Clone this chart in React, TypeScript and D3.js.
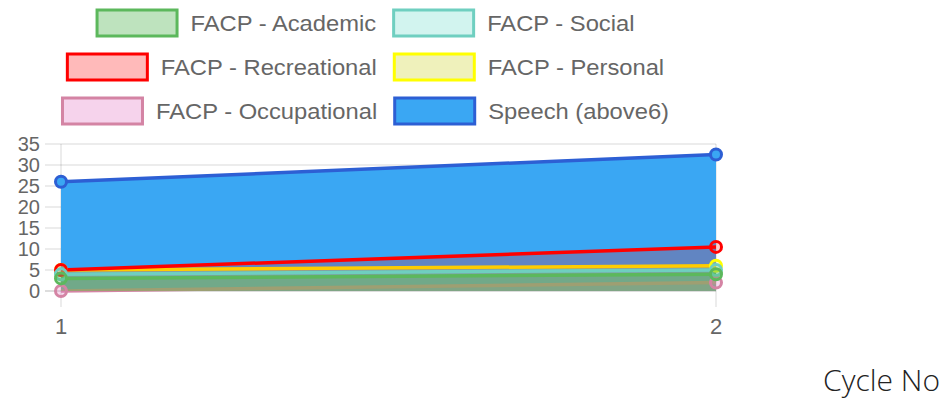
import React, { useEffect, useRef } from 'react';
import * as d3 from 'd3';

const cycles = [1, 2];
const yTicks = [0, 5, 10, 15, 20, 25, 30, 35];

const academic = [3, 4];
const social = [4, 5];
const recreational = [5, 10.5];
const personal = [5, 6];
const occupational = [0, 2];
const speech = [26, 32.5];

const seriesNames = [
  'FACP - Academic',
  'FACP - Social',
  'FACP - Recreational',
  'FACP - Personal',
  'FACP - Occupational',
  'Speech (above6)',
];
const seriesValues = [academic, social, recreational, personal, occupational, speech];
const borders = ['#5cb85c', '#6fcfc0', '#ff0000', '#ffff00', '#d484a4', '#2d5fd4'];
const fills = [
  'rgba(92,184,92,0.4)',
  'rgba(75,210,190,0.25)',
  'rgba(255,0,0,0.27)',
  'rgba(210,215,60,0.35)',
  'rgba(230,130,200,0.35)',
  'rgba(58,167,243,1)',
];
// fills drawn inside the plot are a little lighter than the legend swatches
const areaFills = [
  'rgba(92,184,92,0.35)',
  'rgba(75,210,190,0.2)',
  'rgba(255,0,0,0.2)',
  'rgba(230,235,80,0.3)',
  'rgba(230,130,200,0.3)',
  'rgba(58,167,243,1)',
];

const App: React.FC = () => {
  const svgRef = useRef<SVGSVGElement | null>(null);

  useEffect(() => {
    const svg = d3.select(svgRef.current);
    svg.selectAll('*').remove();

    const x = d3.scaleLinear().domain([1, 2]).range([61, 716]);
    const y = d3.scaleLinear().domain([0, 35]).range([291, 144]);
    const font = '"Liberation Sans", Arial, sans-serif';

    // grid
    const grid = svg.append('g');
    grid.selectAll('line.h')
      .data(yTicks)
      .enter().append('line')
      .attr('x1', 45).attr('x2', 716)
      .attr('y1', d => y(d)).attr('y2', d => y(d))
      .attr('stroke', d => (d === 0 ? 'rgba(0,0,0,0.18)' : 'rgba(0,0,0,0.1)'))
      .attr('stroke-width', 1.5);
    grid.selectAll('line.v')
      .data(cycles)
      .enter().append('line')
      .attr('x1', d => x(d)).attr('x2', d => x(d))
      .attr('y1', 144).attr('y2', 307)
      .attr('stroke', 'rgba(0,0,0,0.1)')
      .attr('stroke-width', 1.5);

    svg.append('g').selectAll('text')
      .data(yTicks)
      .enter().append('text')
      .attr('x', 40).attr('y', d => y(d))
      .attr('dy', '0.36em')
      .attr('text-anchor', 'end')
      .attr('font-family', font).attr('font-size', 20)
      .attr('transform-origin', '40px 0')
      .attr('fill', '#666')
      .text(d => d);

    svg.append('g').selectAll('text')
      .data(cycles)
      .enter().append('text')
      .attr('x', d => x(d)).attr('y', 326)
      .attr('dy', '0.36em')
      .attr('text-anchor', 'middle')
      .attr('font-family', font).attr('font-size', 22)
      .attr('fill', '#666')
      .text(d => d);

    const area = d3.area<number>()
      .x((_, i) => x(cycles[i]))
      .y0(y(0))
      .y1(d => y(d));
    const line = d3.line<number>()
      .x((_, i) => x(cycles[i]))
      .y(d => y(d));

    // chart.js draws the first dataset on top
    const order = d3.range(seriesValues.length).reverse();
    const plot = svg.append('g');
    order.forEach(k => {
      plot.append('path')
        .attr('d', area(seriesValues[k]) as string)
        .attr('fill', areaFills[k]);
      plot.append('path')
        .attr('d', line(seriesValues[k]) as string)
        .attr('fill', 'none')
        .attr('stroke', borders[k])
        .attr('stroke-width', 3.5);
    });
    order.forEach(k => {
      plot.selectAll(null)
        .data(seriesValues[k])
        .enter().append('circle')
        .attr('cx', (_, i) => x(cycles[i]))
        .attr('cy', d => y(d))
        .attr('r', 5.5)
        .attr('fill', areaFills[k])
        .attr('stroke', borders[k])
        .attr('stroke-width', 3);
    });

    // legend, 2 items per row, centred
    const legend = svg.append('g');
    const boxW = 83;
    const boxH = 26;
    const rows = [[0, 1], [2, 3], [4, 5]];
    rows.forEach((row, r) => {
      const cy = 23 + r * 44;
      const g = legend.append('g');
      let cx = 0;
      row.forEach(k => {
        g.append('rect')
          .attr('x', cx + 1.5).attr('y', cy - boxH / 2)
          .attr('width', boxW - 3).attr('height', boxH)
          .attr('fill', fills[k])
          .attr('stroke', borders[k])
          .attr('stroke-width', 3);
        const t = g.append('text')
          .attr('transform', `translate(${cx + boxW + 12},${cy}) scale(1.08,1)`)
          .attr('dy', '0.36em')
          .attr('font-family', font).attr('font-size', 22)
          .attr('fill', '#666')
          .text(seriesNames[k]);
        const w = (t.node() as SVGTextElement).getComputedTextLength() * 1.08;
        cx += boxW + 12 + w + 16;
      });
      const total = cx - 16;
      g.attr('transform', `translate(${365 - total / 2},0)`);
    });

    svg.append('text')
      .attr('x', 940).attr('y', 391)
      .attr('text-anchor', 'end')
      .attr('font-family', '"Open Sans", sans-serif')
      .attr('font-weight', 300)
      .attr('font-size', 30)
      .attr('fill', '#222')
      .text('Cycle No');
  }, []);

  return (
    <svg
      ref={svgRef}
      width={945}
      height={401}
      style={{ position: 'absolute', left: 0, top: 0, background: '#fff' }}
    />
  );
};

export default App;
